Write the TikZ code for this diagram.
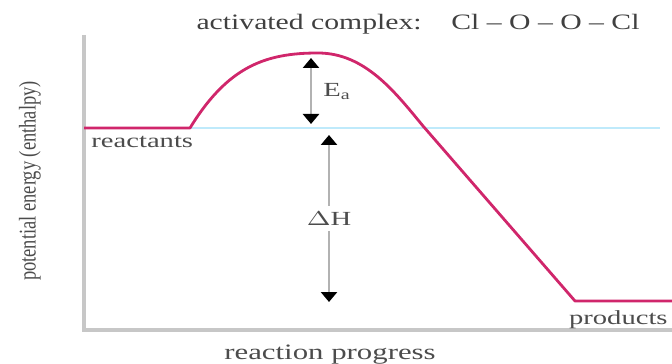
\documentclass[tikz,border=0pt]{standalone}
\usepackage{fontspec}
\setmainfont{Liberation Serif}
\usetikzlibrary{arrows.meta,positioning,calc}

\begin{document}
\begin{tikzpicture}[
    x=0.5pt, y=-0.5pt,
    axis/.style={draw=black!22, line width=1.6pt},
    curve/.style={draw=magenta!70!red!85!black, line width=1.4pt, line join=round},
    level/.style={draw=cyan!25, line width=1pt},
    lbl/.style={font=\fontsize{10}{11}\selectfont, text=black!70, inner sep=1pt, xscale=1.43},
    arr/.style={draw=black!30, line width=1.3pt, {Triangle[black,length=5pt,width=8pt]}-{Triangle[black,length=5pt,width=8pt]}}
]
\useasboundingbox (0,0) rectangle (672,363);

% axes
\coordinate (top) at (84,35);
\coordinate (origin) at (84,330);
\coordinate (right) at (672,330);
\draw[axis] (top) -- (origin) -- (right);

% energy levels and peak
\coordinate (r0) at (84,128);
\coordinate (r1) at (190,128);
\coordinate (peak) at (318,53);
\coordinate (p0) at (575,301);
\coordinate (p1) at (672,301);
\draw[level] (r1) -- (660,128);
\draw[curve] (r0) -- (r1) .. controls (228,66) and (266,53) .. (peak)
    .. controls (365,53) and (395,92) .. (423,126) -- (p0) -- (p1);

% labels
\node[lbl, anchor=west] (reac) at (88,142) {reactants};
\node[lbl, anchor=east] (prod) at (671,320) {products};
\node[font=\fontsize{11}{12}\selectfont, text=black!75, xscale=1.35] (complex) at (418,24) {activated complex:\quad Cl -- O -- O -- Cl};
\node[font=\fontsize{11}{12}\selectfont, text=black!70, xscale=1.4] (xlab) at (330,355) {reaction progress};
\node[font=\fontsize{12}{13}\selectfont, text=black!70, rotate=90, xscale=0.77] (ylab) at (30,181) {potential energy (enthalpy)};

% Ea and Delta H
\coordinate (ea1) at (311,58);
\coordinate (ea2) at (311,124);
\draw[arr] (ea1) -- (ea2);
\node[lbl, anchor=west, xscale=1] (ea) at (320,92) {E\textsubscript{a}};
\coordinate (dh1) at (329,135);
\coordinate (dh2) at (329,302);
\draw[arr] (dh1) -- node[fill=white, lbl, xscale=1, inner sep=3pt] (dh) {$\Delta$H} (dh2);
\end{tikzpicture}
\end{document}
